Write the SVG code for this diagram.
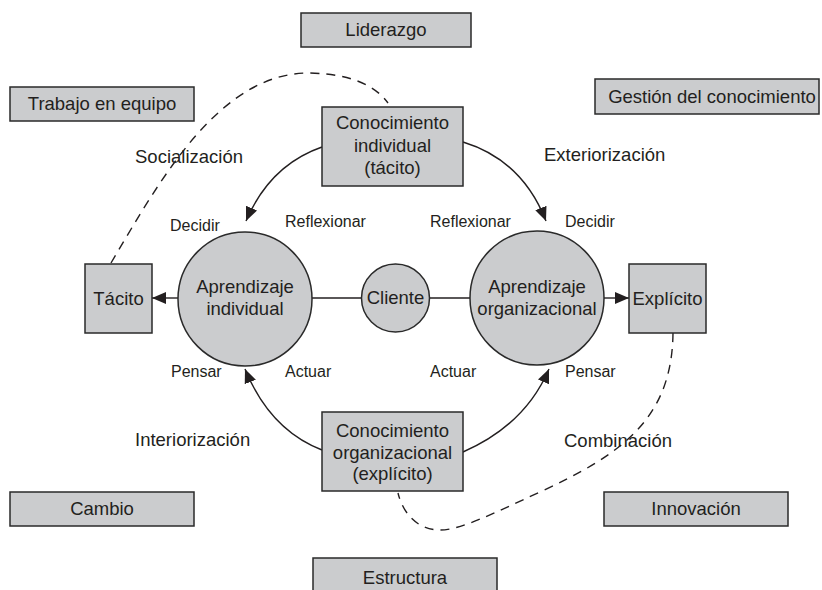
<svg xmlns="http://www.w3.org/2000/svg" width="822" height="590" viewBox="0 0 822 590">
<style>
text{font-family:"Liberation Sans",Arial,sans-serif;fill:#231f20}
.big{font-size:18.5px}
.sm{font-size:16px}
.c{text-anchor:middle}
.box{fill:#cbccce;stroke:#2a2a2a;stroke-width:1.5}
.line{fill:none;stroke:#231f20;stroke-width:1.4}
.dash{fill:none;stroke:#231f20;stroke-width:1.4;stroke-dasharray:9 7}
</style>
<defs>
<marker id="ah" viewBox="0 0 14 12" refX="14" refY="6" markerWidth="14" markerHeight="12" markerUnits="userSpaceOnUse" orient="auto">
<path d="M0,0 L14,6 L0,12 z" fill="#231f20"/>
</marker>
</defs>
<rect width="822" height="590" fill="#fff"/>

<g id="liderazgo"><rect class="box" x="301" y="13" width="170" height="34"/><text class="big c" x="386" y="36">Liderazgo</text></g>
<g id="trabajo"><rect class="box" x="10" y="87" width="184" height="34"/><text class="big c" x="102" y="110">Trabajo en equipo</text></g>
<g id="gestion"><rect class="box" x="595" y="79" width="224" height="35"/><text class="big c" x="712" y="103">Gestión del conocimiento</text></g>
<g id="cambio"><rect class="box" x="10" y="492" width="184" height="34"/><text class="big c" x="102" y="515">Cambio</text></g>
<g id="innovacion"><rect class="box" x="604" y="492" width="184" height="34"/><text class="big c" x="696" y="515">Innovación</text></g>
<g id="estructura"><rect class="box" x="313" y="558" width="184" height="36"/><text class="big c" x="405" y="584">Estructura</text></g>

<g id="conectores">
<path class="line" d="M322,147 Q270,165 246,221" marker-end="url(#ah)"/>
<path class="line" d="M463,142 Q522,160 546,221" marker-end="url(#ah)"/>
<path class="line" d="M322,450 Q270,430 245,369" marker-end="url(#ah)"/>
<path class="line" d="M463,452 Q525,425 549,369" marker-end="url(#ah)"/>
<path class="line" d="M178,298 L152,298" marker-end="url(#ah)"/>
<path class="line" d="M604,298 L629,298" marker-end="url(#ah)"/>
<path class="line" d="M312,298 L362,298"/>
<path class="line" d="M429,298 L470,298"/>
<path class="dash" d="M111,263 C160,180 220,72 310,73 C350,74 375,85 388,103"/>
<path class="dash" d="M673,333 C672,420 620,455 540,492 C490,515 460,530 440,530 C415,530 402,510 398,493"/>
</g>

<g id="con-individual"><rect class="box" x="322" y="107" width="141" height="79"/>
<text class="big c" x="392.5" y="129">Conocimiento</text><text class="big c" x="392.5" y="152">individual</text><text class="big c" x="392.5" y="174">(tácito)</text></g>
<g id="con-organizacional"><rect class="box" x="322" y="412" width="141" height="79"/>
<text class="big c" x="392.5" y="437">Conocimiento</text><text class="big c" x="392.5" y="459">organizacional</text><text class="big c" x="392.5" y="480">(explícito)</text></g>
<g id="tacito"><rect class="box" x="85" y="264" width="67" height="69"/><text class="big c" x="118.5" y="305">Tácito</text></g>
<g id="explicito"><rect class="box" x="629" y="264" width="77" height="69"/><text class="big c" x="667.5" y="305">Explícito</text></g>
<g id="apr-individual"><circle class="box" cx="245" cy="299" r="67"/><text class="big c" x="245" y="293">Aprendizaje</text><text class="big c" x="245" y="315">individual</text></g>
<g id="cliente"><circle class="box" cx="395.5" cy="298" r="34"/><text class="big c" x="395.5" y="304">Cliente</text></g>
<g id="apr-organizacional"><circle class="box" cx="537" cy="298" r="67"/><text class="big c" x="537" y="293">Aprendizaje</text><text class="big c" x="537" y="315">organizacional</text></g>

<g id="etiquetas">
<text class="big" x="135" y="163">Socialización</text>
<text class="big" x="544" y="161">Exteriorización</text>
<text class="big" x="135" y="446">Interiorización</text>
<text class="big" x="564" y="447">Combinación</text>
<text class="sm" x="170" y="231">Decidir</text>
<text class="sm" x="285" y="227">Reflexionar</text>
<text class="sm" x="430" y="227">Reflexionar</text>
<text class="sm" x="565" y="227">Decidir</text>
<text class="sm" x="171" y="377">Pensar</text>
<text class="sm" x="285" y="377">Actuar</text>
<text class="sm" x="430" y="377">Actuar</text>
<text class="sm" x="565" y="377">Pensar</text>
</g>
</svg>
